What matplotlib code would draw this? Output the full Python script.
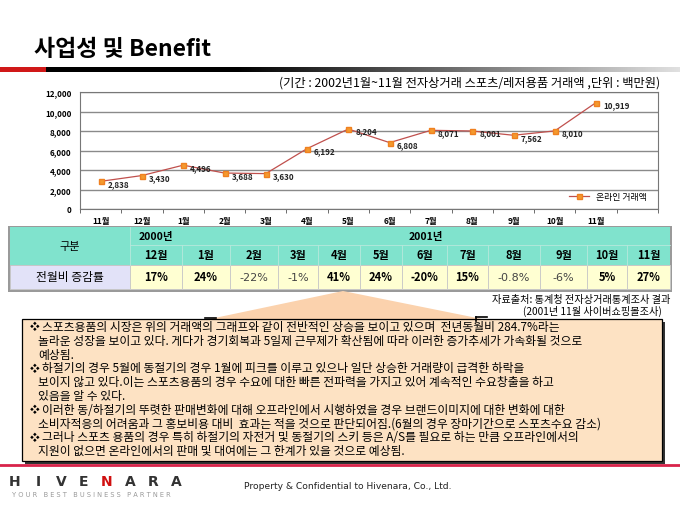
import matplotlib.pyplot as plt
import numpy as np
from matplotlib.patches import Rectangle, Polygon

plt.rcParams['font.family'] = ['Noto Sans CJK KR', 'DejaVu Sans']

# ---- data ----
months = ['11월', '12월', '1월', '2월', '3월', '4월', '5월', '6월', '7월', '8월', '9월', '10월', '11월']
sales = [2838, 3430, 4496, 3688, 3630, 6192, 8204, 6808, 8071, 8001, 7562, 8010, 10919]

table_months = ['12월', '1월', '2월', '3월', '4월', '5월', '6월', '7월', '8월', '9월', '10월', '11월']
rates = [17, 24, -22, -1, 41, 24, -20, 15, -0.8, -6, 5, 27]
thin_rates = [-22, -1, -0.8, -6]

notes = [
    ('❖ ', '스포츠용품의 시장은 위의 거래액의 그래프와 같이 전반적인 상승을 보이고 있으며  전년동월비 284.7%라는'),
    ('', '놀라운 성장을 보이고 있다. 게다가 경기회복과 5일제 근무제가 확산됨에 따라 이러한 증가추세가 가속화될 것으로'),
    ('', '예상됨.'),
    ('❖ ', '하절기의 경우 5월에 동절기의 경우 1월에 피크를 이루고 있으나 일단 상승한 거래량이 급격한 하락을'),
    ('', '보이지 않고 있다.이는 스포츠용품의 경우 수요에 대한 빠른 전파력을 가지고 있어 계속적인 수요창출을 하고'),
    ('', '있음을 알 수 있다.'),
    ('❖ ', '이러한 동/하절기의 뚜렷한 판매변화에 대해 오프라인에서 시행하였을 경우 브랜드이미지에 대한 변화에 대한'),
    ('', '소비자적응의 어려움과 그 홍보비용 대비  효과는 적을 것으로 판단되어짐.(6월의 경우 장마기간으로 스포츠수요 감소)'),
    ('❖ ', '그러나 스포츠 용품의 경우 특히 하절기의 자전거 및 동절기의 스키 등은 A/S를 필요로 하는 만큼 오프라인에서의'),
    ('', '지원이 없으면 온라인에서의 판매 및 대여에는 그 한계가 있을 것으로 예상됨.'),
]

W, H = 680, 510
fig = plt.figure(figsize=(6.8, 5.1), dpi=100)

# page overlay in pixel coordinates
ov = fig.add_axes([0, 0, 1, 1])
ov.set_xlim(0, W)
ov.set_ylim(H, 0)
ov.axis('off')

# title and gradient rule
ov.text(34, 50, '사업성 및 Benefit', fontsize=16.5, fontweight='bold', va='center', ha='left')
ov.add_patch(Rectangle((0, 67.5), 46, 5, color='#d01818', lw=0))
grad = np.ones((1, 256, 3))
ramp = np.clip((np.linspace(0, 1, 256) - 0.3) / 0.7, 0, 1) * 0.88
grad[0, :, :] = ramp[:, None]
ov.imshow(grad, extent=[46, W, 72.5, 67.5], aspect='auto', zorder=1)

ov.text(660, 83, '(기간 : 2002년1월~11월 전자상거래 스포츠/레저용품 거래액 ,단위 : 백만원)',
        fontsize=8.8, ha='right', va='center')

# ---- line chart ----
ax = fig.add_axes([80 / W, 1 - 210 / H, 578 / W, 117 / H])
x = np.arange(len(months))
ax.plot(x, sales, color='#c0504d', lw=0.9, marker='s', markersize=3.6,
        markerfacecolor='#f39a2e', markeredgecolor='#f08020', label='온라인 거래액', zorder=3)
for xi, v in zip(x, sales):
    ax.annotate(f'{v:,}', (xi, v), xytext=(5, -1.5), textcoords='offset points',
                fontsize=5.8, fontweight='bold', va='center', ha='left', color='#222222')
ax.set_xlim(-0.5, 13.5)
ax.set_ylim(0, 12000)
ax.set_yticks(range(0, 12001, 2000))
ax.set_yticklabels([f'{t:,}' for t in range(0, 12001, 2000)], fontsize=5.8, fontweight='bold')
ax.yaxis.grid(True, color='#8a8a8a', lw=1.0)
ax.set_axisbelow(True)
ax.set_xticks(x)
ax.set_xticklabels(months, fontsize=6, fontweight='bold')
ax.tick_params(axis='x', length=0, pad=5)
ax.tick_params(axis='y', length=0, pad=6)
ax.set_xticks(np.arange(-0.5, 13.6, 1), minor=True)
ax.tick_params(axis='x', which='minor', length=3, color='#555555')
for s in ax.spines.values():
    s.set_color('#777777')
    s.set_linewidth(0.8)
ax.legend(loc='lower right', frameon=False, fontsize=6.4, handlelength=2.2,
          bbox_to_anchor=(0.99, 0.02), borderaxespad=0.2)

# ---- table ----
col_edges = [10, 130, 182, 230, 278, 318, 360, 402, 447, 488, 540, 587, 627, 670]
y0, y1, y2, y3 = 228, 246, 266, 290
teal = '#80e3cd'
ov.add_patch(Rectangle((8, y0 - 1), 664, y3 - y0 + 4, color='#9a9a9a', lw=0))
ov.add_patch(Rectangle((col_edges[0], y0), col_edges[-1] - col_edges[0], y2 - y0, color=teal, lw=0))
ov.add_patch(Rectangle((col_edges[0], y2), col_edges[1] - col_edges[0], y3 - y2,
                       facecolor='#e2e2f8', edgecolor='#c8c8c8', lw=0.6))
for i in range(len(table_months)):
    ov.add_patch(Rectangle((col_edges[i + 1], y2), col_edges[i + 2] - col_edges[i + 1], y3 - y2,
                           facecolor='#ffffd2', edgecolor='#c8c8c8', lw=0.6))
    ov.plot([col_edges[i + 1]] * 2, [y1 if i > 0 else y0, y2], color='#b8e8dc', lw=0.6)
ov.plot([col_edges[1], col_edges[-1]], [y1, y1], color='#b8e8dc', lw=0.6)
ov.text((col_edges[0] + col_edges[1]) / 2, (y0 + y2) / 2, '구분', fontsize=8, ha='center', va='center')
ov.text((col_edges[1] + col_edges[2]) / 2, (y0 + y1) / 2, '2000년', fontsize=7.5, fontweight='bold',
        ha='center', va='center')
ov.text((col_edges[2] + col_edges[-1]) / 2, (y0 + y1) / 2, '2001년', fontsize=7.5, fontweight='bold',
        ha='center', va='center')
ov.text((col_edges[0] + col_edges[1]) / 2, (y2 + y3) / 2, '전월비 증감률', fontsize=8.5,
        ha='center', va='center')
for i, (m, r) in enumerate(zip(table_months, rates)):
    cx = (col_edges[i + 1] + col_edges[i + 2]) / 2
    ov.text(cx, (y1 + y2) / 2, m, fontsize=8, fontweight='bold', ha='center', va='center')
    thin = r in thin_rates
    ov.text(cx, (y2 + y3) / 2, f'{r:g}%', fontsize=8, ha='center', va='center',
            fontweight='normal' if thin else 'bold', color='#444444' if thin else 'black',
            family=['DejaVu Sans'] if thin else ['Noto Sans CJK KR', 'DejaVu Sans'])

ov.text(670, 300, '자료출처: 통계청 전자상거래통계조사 결과', fontsize=7.3, ha='right', va='center')
ov.text(592, 311, '(2001년 11월 사이버쇼핑몰조사)', fontsize=7.3, ha='center', va='center')

# ---- callout and text box ----
ov.add_patch(Polygon([(205, 321), (343, 292), (487, 321)], closed=True, color='#fbd2ad', lw=0))
ov.plot([205, 216], [319, 319], color='black', lw=1.2)
ov.plot([476, 487], [318, 318], color='black', lw=1.2)
ov.plot([476, 476], [318, 322], color='black', lw=1.2)
ov.add_patch(Rectangle((25, 323), 640, 142, color='#333333', lw=0))
ov.add_patch(Rectangle((22, 320), 640, 142, facecolor='#fde2c3', edgecolor='black', lw=0.9))
for k, (bullet, line) in enumerate(notes):
    yy = 327.5 + k * 13.8
    if bullet:
        ov.text(30, yy, '❖', fontsize=7, ha='left', va='center')
    ov.text(42 if bullet else 38, yy, line, fontsize=8.5, ha='left', va='center')

# ---- footer ----
ov.plot([0, W], [466, 466], color='#d8234a', lw=2)
for i, ch in enumerate('HIVENARA'):
    ov.text(15 + i * 23, 482, ch, fontsize=10, fontweight='bold', ha='center', va='center',
            color='#d01010' if ch == 'N' and i == 4 else '#333333', family=['DejaVu Sans'])
ov.text(12, 495, 'Y O U R   B E S T   B U S I N E S S   P A R T N E R', fontsize=4.8,
        ha='left', va='center', color='#999999', family=['DejaVu Sans'])
ov.text(244, 487, 'Property & Confidential to Hivenara, Co., Ltd.', fontsize=6.6,
        ha='left', va='center', color='#222222', family=['DejaVu Sans'])

ax.set_zorder(2)
fig.savefig('out.png', dpi=100)
